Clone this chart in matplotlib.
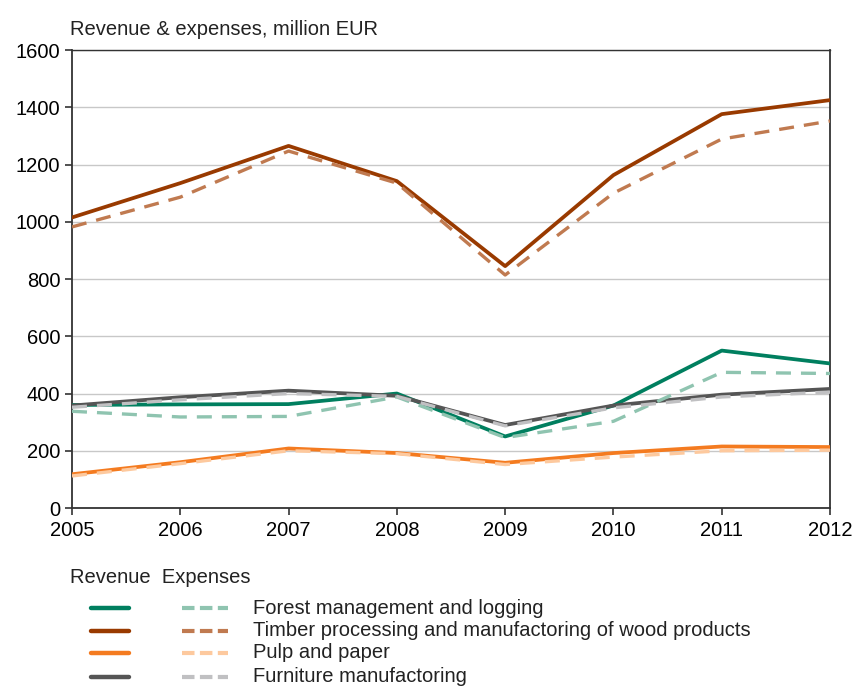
import matplotlib.pyplot as plt
from matplotlib.lines import Line2D

years = [2005, 2006, 2007, 2008, 2009, 2010, 2011, 2012]

forest_rev = [360, 362, 363, 400, 250, 358, 550, 505]
forest_exp = [338, 318, 320, 388, 246, 303, 474, 470]
timber_rev = [1015, 1135, 1265, 1142, 845, 1163, 1376, 1425]
timber_exp = [982, 1086, 1247, 1135, 814, 1100, 1289, 1352]
pulp_rev = [118, 160, 208, 192, 158, 192, 215, 213]
pulp_exp = [112, 155, 200, 190, 152, 178, 200, 202]
furn_rev = [358, 387, 410, 392, 290, 358, 396, 416]
furn_exp = [352, 378, 400, 390, 287, 350, 388, 405]

labels = ['Forest management and logging',
          'Timber processing and manufactoring of wood products',
          'Pulp and paper',
          'Furniture manufactoring']
rev_colors = ['#007f5f', '#993a00', '#f47b20', '#555555']
exp_colors = ['#8fc4b0', '#c07a50', '#fdc99e', '#c0c0c2']

plt.rcParams['font.family'] = ['Liberation Sans', 'DejaVu Sans']

fig = plt.figure(figsize=(8.55, 6.88), dpi=100)
ax = fig.add_axes([0.0842, 0.2616, 0.8866, 0.6657])

revs = [forest_rev, timber_rev, pulp_rev, furn_rev]
exps = [forest_exp, timber_exp, pulp_exp, furn_exp]

for i in range(4):
    ax.plot(years, revs[i], color=rev_colors[i], lw=2.7, zorder=3)
    ax.plot(years, exps[i], color=exp_colors[i], lw=2.4, dashes=(4.5, 3), zorder=4)

ax.set_xlim(2005, 2012)
ax.set_ylim(0, 1600)
ax.set_xticks(years)
ax.set_yticks(range(0, 1601, 200))
ax.grid(axis='y', color='#c8c8c8', lw=1)
ax.set_axisbelow(True)
for s in ax.spines.values():
    s.set_color('#333333')
    s.set_linewidth(1.3)
ax.spines['top'].set_linewidth(1.0)
ax.tick_params(labelsize=14.5, color='#333333', length=5, width=1.2)
ax.tick_params(axis='x', pad=4)

fig.text(0.082, 0.957, 'Revenue & expenses, million EUR', fontsize=14.5,
         va='center', ha='left', color='#222222')

# legend
fig.text(0.082, 0.16, 'Revenue  Expenses', fontsize=14.5, va='center', ha='left', color='#222222')
rows_y = [0.116, 0.083, 0.051, 0.016]
for i in range(4):
    y = rows_y[i]
    fig.add_artist(Line2D([0.107, 0.151], [y, y], color=rev_colors[i], lw=3.2,
                          solid_capstyle='round', transform=fig.transFigure))
    fig.add_artist(Line2D([0.213, 0.267], [y, y], color=exp_colors[i], lw=3,
                          dashes=(3.0, 1.3), transform=fig.transFigure))
    fig.text(0.296, y, labels[i], fontsize=14.5, va='center', ha='left', color='#222222')

fig.savefig('out.png', dpi=100)
